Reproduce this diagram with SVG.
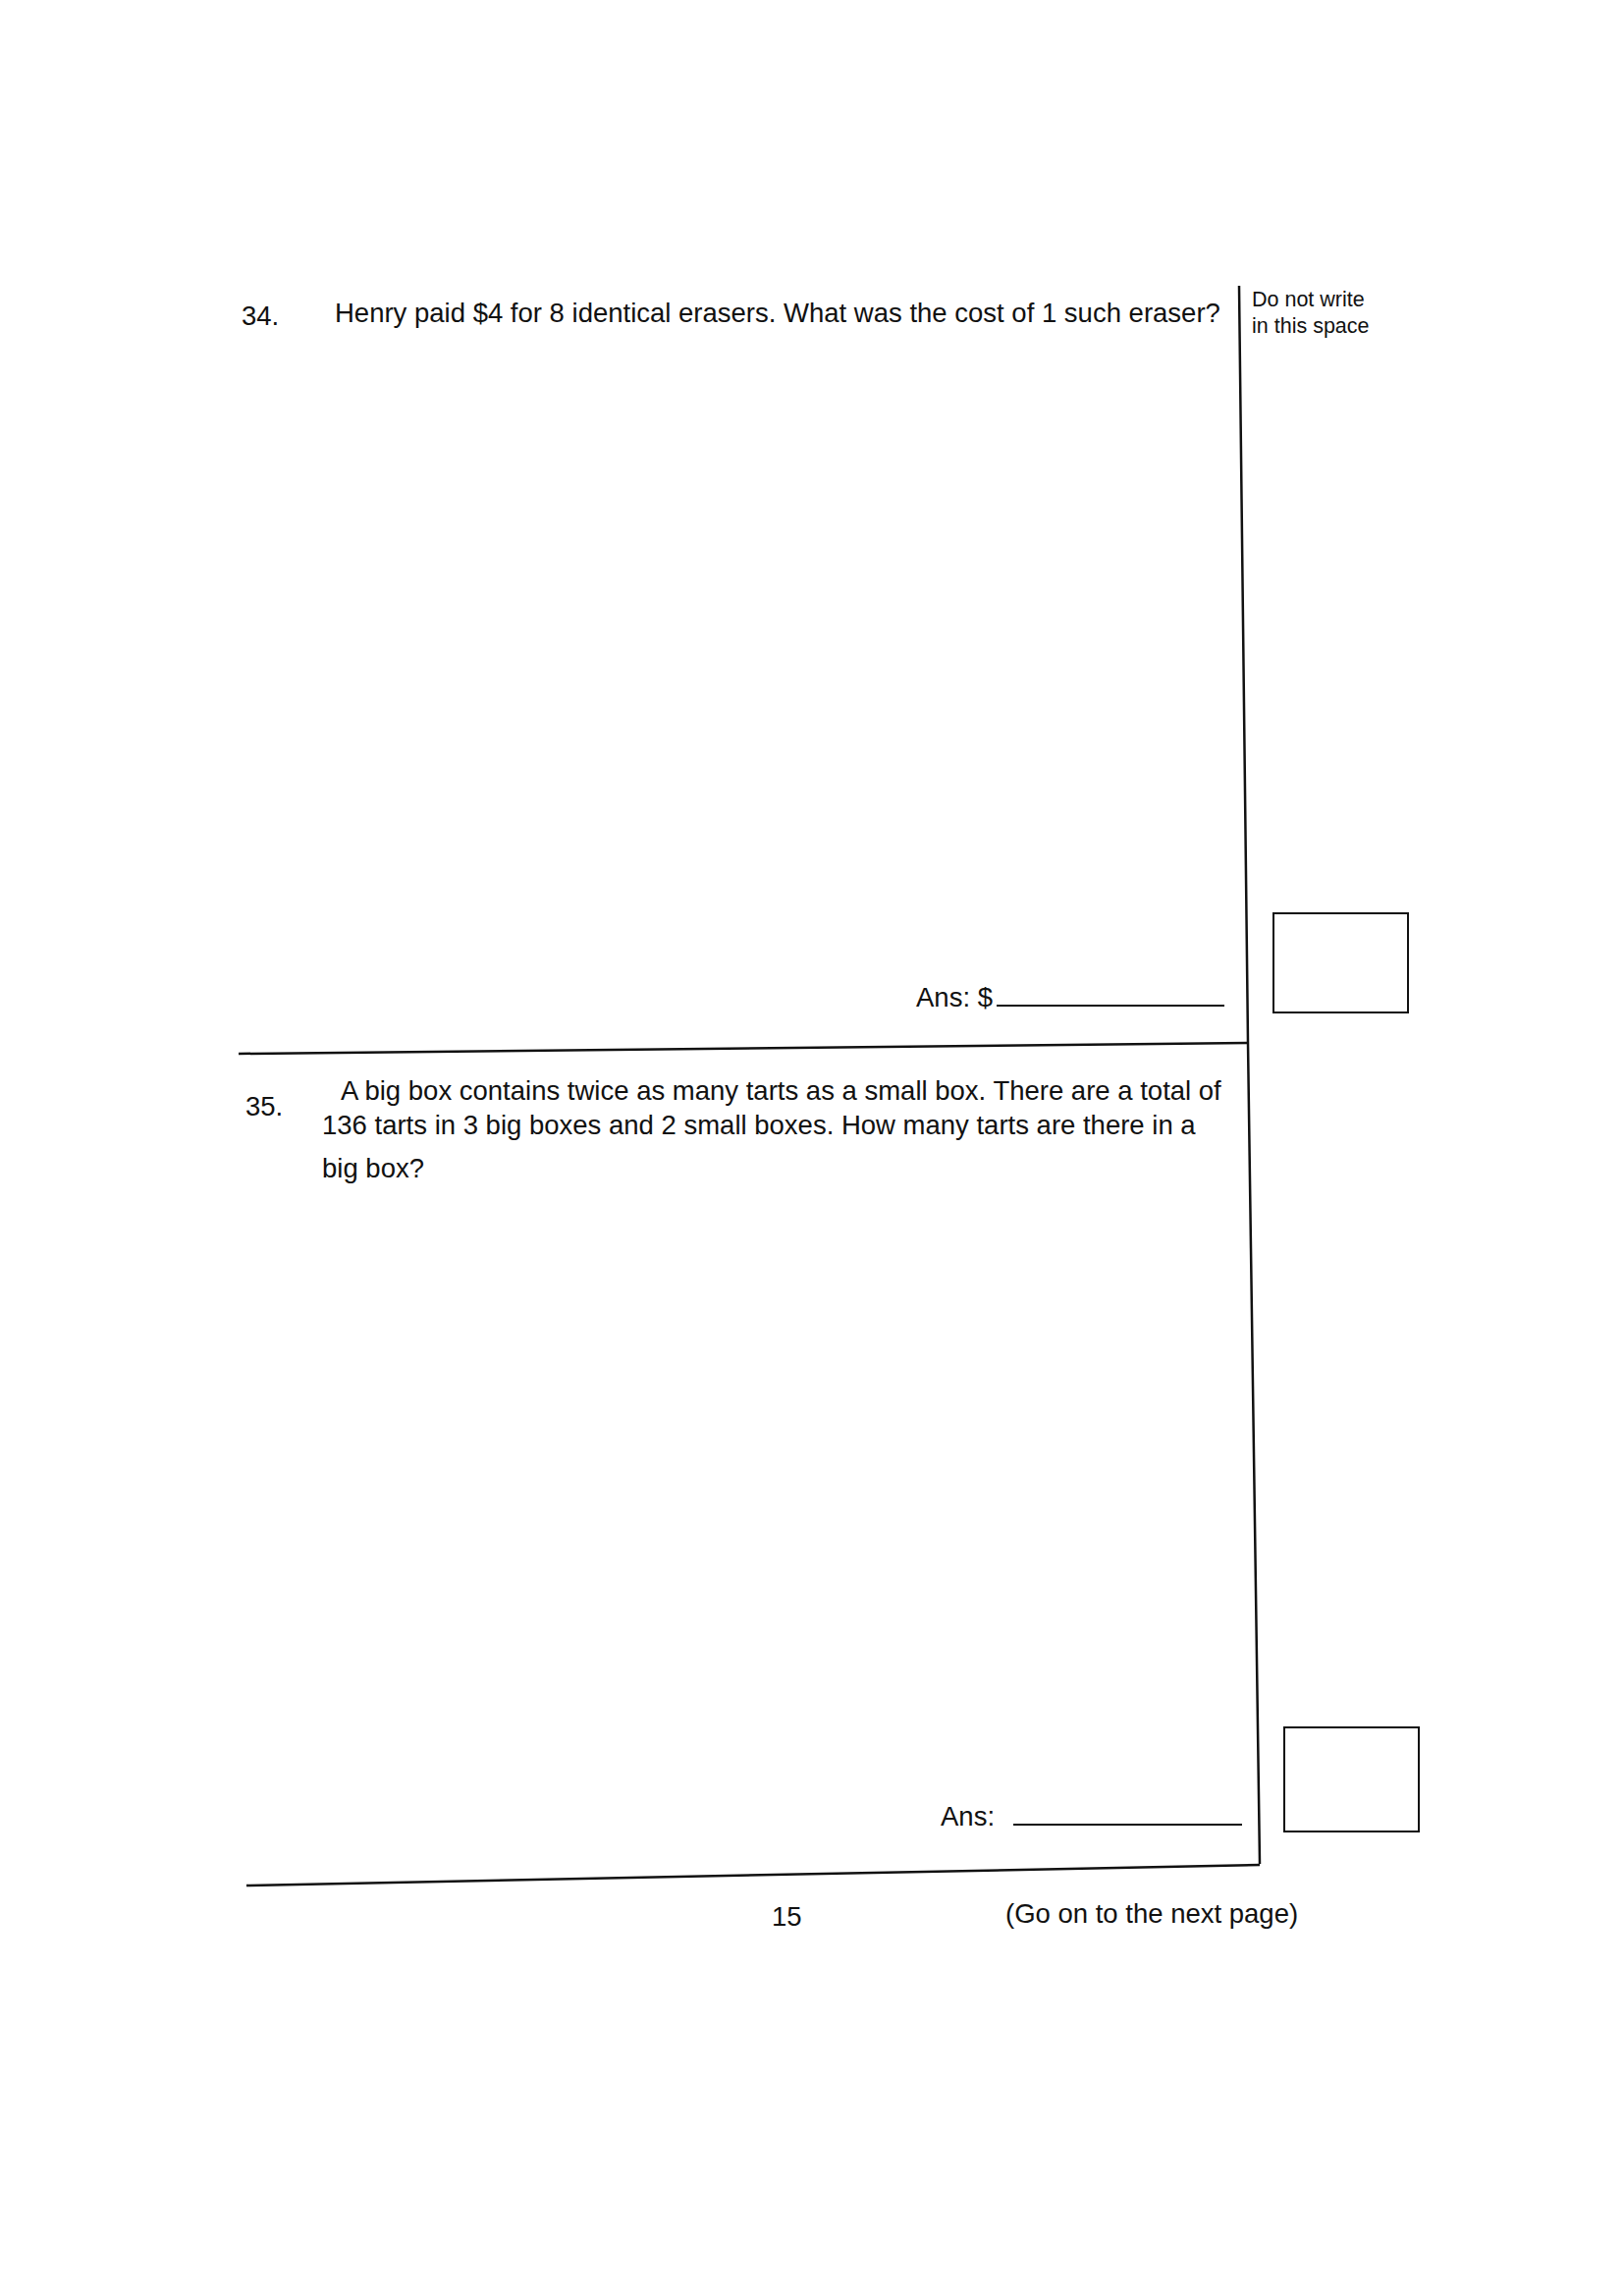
<svg xmlns="http://www.w3.org/2000/svg" width="1654" height="2338" viewBox="0 0 1654 2338">
<style>
text{font-family:"Liberation Sans",Arial,sans-serif;fill:#111;font-size:27.5px}
.s{font-size:21.5px}
.l{stroke:#111;stroke-width:2.5;fill:none}
.b{stroke:#111;stroke-width:2;fill:none}
</style>
<rect width="1654" height="2338" fill="#fff"/>
<g id="connectors">
<path class="l" d="M1262 291 L1271 1062 L1283 1898"/>
<path class="l" d="M243 1073 L1270 1062"/>
<path class="l" d="M251 1920 L1283 1899"/>
<path class="b" d="M1015 1024 L1247 1024"/>
<path class="b" d="M1032 1858 L1265 1858"/>
</g>
<g id="q34">
<text x="246" y="331">34.</text>
<text x="341" y="328">Henry paid $4 for 8 identical erasers. What was the cost of 1 such eraser?</text>
<text x="933" y="1025">Ans: $</text>
</g>
<g id="margin-note">
<text class="s" x="1275" y="312">Do not write</text>
<text class="s" x="1275" y="339">in this space</text>
</g>
<g id="box1"><rect class="b" x="1297" y="930" width="137" height="101"/></g>
<g id="q35">
<text x="250" y="1136">35.</text>
<text x="347" y="1120">A big box contains twice as many tarts as a small box. There are a total of</text>
<text x="328" y="1155">136 tarts in 3 big boxes and 2 small boxes. How many tarts are there in a</text>
<text x="328" y="1199">big box?</text>
<text x="958" y="1859">Ans:</text>
</g>
<g id="box2"><rect class="b" x="1308" y="1759" width="137" height="106"/></g>
<g id="footer">
<text x="786" y="1961">15</text>
<text x="1024" y="1958">(Go on to the next page)</text>
</g>
</svg>
